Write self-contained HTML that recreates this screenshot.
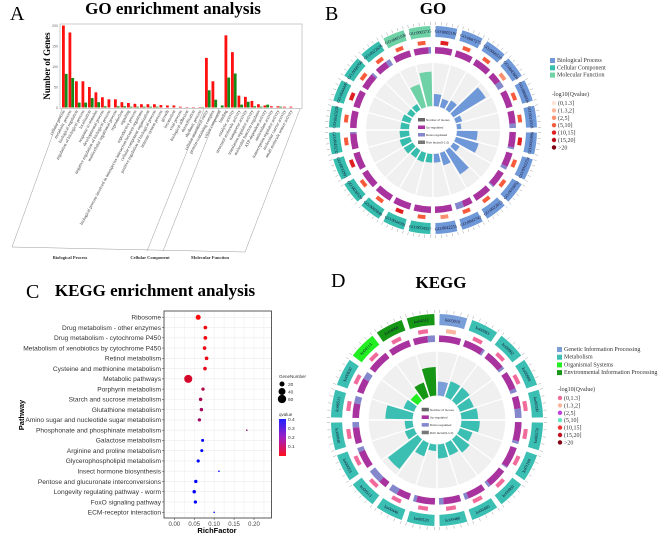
<!DOCTYPE html>
<html><head><meta charset="utf-8"><style>
html,body{margin:0;padding:0;background:#fff;}
svg{display:block;font-family:"Liberation Sans",sans-serif;}
.serif{font-family:"Liberation Serif",serif;}
</style></head><body>
<svg id="fig" width="669" height="534" viewBox="0 0 669 534" xmlns="http://www.w3.org/2000/svg">
<text class="serif" x="10" y="20" font-size="20">A</text>
<text class="serif" x="173" y="14" font-size="17" font-weight="bold" text-anchor="middle">GO enrichment analysis</text>
<text class="serif" x="325" y="20" font-size="20">B</text>
<text class="serif" x="433" y="14" font-size="17" font-weight="bold" text-anchor="middle">GO</text>
<text class="serif" x="26" y="298" font-size="20">C</text>
<text class="serif" x="155" y="296" font-size="17" font-weight="bold" text-anchor="middle">KEGG enrichment analysis</text>
<text class="serif" x="331" y="287" font-size="20">D</text>
<text class="serif" x="441" y="288" font-size="17" font-weight="bold" text-anchor="middle">KEGG</text>
<g id="ga"></g>
<g id="gb"></g>
<g id="gc"></g>
<g id="gd"></g>
</svg>
<script>
var NS="http://www.w3.org/2000/svg";
// ---------- Panel A data ----------
var goTerms=["cellular process","metabolic process","biological regulation","regulation of biological process","localization","response to stimulus","developmental process","negative regulation of biological process","multicellular organismal process","reproduction","signaling","reproductive process","biological process involved in interspecies interaction between organisms","cellular component organization","positive regulation of biological process","immune system process","growth","locomotion","viral process","biological adhesion","detoxification","rhythmic process","cellular anatomical entity","protein-containing complex","virion component","binding","catalytic activity","structural molecule activity","transporter activity","translation regulator activity","molecular function regulator","ATP-dependent activity","antioxidant activity","transcription regulator activity","molecular carrier activity","small molecule sensor activity"];
var goUpCounts=[200,183,64,64,50,37,25,20,20,13,11,9,8,8,8,6,5,5,2,1,1,1,121,64,0,176,135,29,26,16,8,5,3,3,2,2];
var goDownCounts=[82,72,12,12,23,13,3,0,3,3,2,2,2,2,2,0,0,0,0,0,0,1,42,19,5,73,83,7,14,3,2,7,0,2,0,0];
var goYTicks=[0,50,100,150,200];
function el(p,tag,attrs){var e=document.createElementNS(NS,tag);for(var k in attrs)e.setAttribute(k,attrs[k]);p.appendChild(e);return e;}
(function(){
 var g=document.getElementById('ga');
 var x0=60,x1=302,yTop=24,y0=107.5;
 function ys(v){return y0-v*(y0-yTop-1.5)/200;}
 function xs(i){return 62+i*6.5;}
 var r=el(g,'rect',{x:x0,y:yTop,width:x1-x0,height:y0-yTop+1,fill:'none',stroke:'#aaa','stroke-width':0.6});
 
 goYTicks.forEach(function(t){var tx=el(g,'text',{x:x0-2,y:ys(t)+1.5,'font-size':3.5,'text-anchor':'end',fill:'#666'});tx.textContent=t;
  });
 var yl=el(g,'text',{x:50,y:66,'font-size':9,'font-weight':'bold','text-anchor':'middle',transform:'rotate(-90 50 66)','class':'serif'});yl.textContent='Number  of Genes';
 
 for(var i=0;i<goTerms.length;i++){
  var b=el(g,'rect',{x:xs(i),y:ys(goUpCounts[i]),width:2.8,height:y0-ys(goUpCounts[i]),fill:'#ff1010'});
  
  var b2=el(g,'rect',{x:xs(i)+2.8,y:ys(goDownCounts[i]),width:2.8,height:y0-ys(goDownCounts[i]),fill:'#168a16'});
  
  var lx=xs(i)+3,ly=111;
  var t=el(g,'text',{x:lx,y:ly,'font-size':4.4,'text-anchor':'end',fill:'#333',transform:'rotate(-62 '+lx+' '+ly+')','class':'serif'});t.textContent=goTerms[i];
  
 }
 var lines=[[62,109,12,247],[12,247,245,252],[300,109,245,252],[204,109,147,251],[219,109,163,251]];
 lines.forEach(function(l){var ln=el(g,'line',{x1:l[0],y1:l[1],x2:l[2],y2:l[3],stroke:'#999','stroke-width':0.5});});
 [['Biological Process',70],['Cellular Component',150],['Molecular Function',210]].forEach(function(s){
  var t=el(g,'text',{x:s[1],y:259,'font-size':4.5,'font-weight':'bold','text-anchor':'middle','class':'serif',fill:'#333'});t.textContent=s[0];
  });
})();
// ---------- Panel C data ----------
var keggPathways=["Ribosome","Drug metabolism - other enzymes","Drug metabolism - cytochrome P450","Metabolism of xenobiotics by cytochrome P450","Retinol metabolism","Cysteine and methionine metabolism","Metabolic pathways","Porphyrin metabolism","Starch and sucrose metabolism","Glutathione metabolism","Amino sugar and nucleotide sugar metabolism","Phosphonate and phosphinate metabolism","Galactose metabolism","Arginine and proline metabolism","Glycerophospholipid metabolism","Insect hormone biosynthesis","Pentose and glucuronate interconversions","Longevity regulating pathway - worm","FoxO signaling pathway","ECM-receptor interaction"];
var keggRich=[0.060,0.078,0.078,0.076,0.081,0.077,0.035,0.072,0.066,0.068,0.063,0.182,0.071,0.069,0.060,0.112,0.054,0.050,0.053,0.100];
var keggGenes=[25,14,14,13,13,13,65,11,12,12,11,1,9,9,10,2,11,12,11,2];
var keggQ=[0.04,0.05,0.05,0.06,0.06,0.07,0.09,0.14,0.15,0.16,0.17,0.2,0.4,0.4,0.4,0.4,0.4,0.4,0.4,0.4];
var richTicks=[0,0.05,0.10,0.15,0.20];
var richTickLabels=["0.00","0.05","0.10","0.15","0.20"];
(function(){
 var g=document.getElementById('gc');
 var L=164,R=271.5,T=311,B=518;
 function xs(v){return 174.3+v*398.5;}
 function ys(i){return 317.3+i*10.26;}
 function qcol(q){var f=Math.max(0,Math.min(1,(q-0.03)/0.37));var rr=Math.round(255*(1-f)),bb=Math.round(255*f),gg=Math.round(10*(1-f));return 'rgb('+rr+','+gg+','+bb+')';}
 el(g,'rect',{x:L,y:T,width:R-L,height:B-T,fill:'#fff'});
 for(var v=0;v<=0.225;v+=0.025){var ln=el(g,'line',{x1:xs(v),x2:xs(v),y1:T,y2:B,stroke:'#ebebeb','stroke-width':0.5});}
 for(var i=0;i<keggPathways.length;i++){el(g,'line',{x1:L,x2:R,y1:ys(i),y2:ys(i),stroke:'#ebebeb','stroke-width':0.6});}
 var fr=el(g,'rect',{x:L,y:T,width:R-L,height:B-T,fill:'none',stroke:'#333','stroke-width':0.8});
 
 for(var i=0;i<keggPathways.length;i++){
  var t=el(g,'text',{x:L-3,y:ys(i)+2.3,'font-size':6.6,'text-anchor':'end',fill:'#333'});t.textContent=keggPathways[i];
  
  el(g,'line',{x1:L-2,x2:L,y1:ys(i),y2:ys(i),stroke:'#333','stroke-width':0.5});
  var c=el(g,'circle',{cx:xs(keggRich[i]),cy:ys(i),r:Math.max(0.8,Math.sqrt(keggGenes[i])*0.5),fill:qcol(keggQ[i])});
  
 }
 richTicks.forEach(function(v,k){var t=el(g,'text',{x:xs(v),y:B+8,'font-size':6,'text-anchor':'middle',fill:'#444'});t.textContent=richTickLabels[k];
  
  el(g,'line',{x1:xs(v),x2:xs(v),y1:B,y2:B+2,stroke:'#333','stroke-width':0.5});});
 var xt=el(g,'text',{x:217,y:533,'font-size':7.5,'font-weight':'bold','text-anchor':'middle'});xt.textContent='RichFactor';
 
 var yt=el(g,'text',{x:24,y:415,'font-size':7.5,'font-weight':'bold','text-anchor':'middle',transform:'rotate(-90 24 415)'});yt.textContent='Pathway';
 
 var lg=el(g,'text',{x:279,y:378,'font-size':4.5,fill:'#333'});lg.textContent='GeneNumber';
 
 [[20,384],[40,391.5],[60,399]].forEach(function(s){el(g,'circle',{cx:282,cy:s[1],r:Math.sqrt(s[0])*0.5+0.3,fill:'#000'});
  var t=el(g,'text',{x:288,y:s[1]+1.8,'font-size':4.8,fill:'#333'});t.textContent=s[0];});
 var ql=el(g,'text',{x:279,y:416,'font-size':4.5,fill:'#333'});ql.textContent='qvalue';
 
 var defs=el(g,'defs',{});var lgd=el(defs,'linearGradient',{id:'qg',x1:0,y1:0,x2:0,y2:1});
 el(lgd,'stop',{offset:'0',"stop-color":'#2020ff'});el(lgd,'stop',{offset:'0.5',"stop-color":'#a020c0'});el(lgd,'stop',{offset:'1',"stop-color":'#ff1020'});
 var cb=el(g,'rect',{x:279,y:419,width:7,height:37,fill:'url(#qg)'});
 [['0.4',419],['0.3',428],['0.2',437],['0.1',446]].forEach(function(s){var t=el(g,'text',{x:288,y:s[1]+2,'font-size':4.8,fill:'#333'});t.textContent=s[0];});
})();
// ---------- Circle plots ----------
function arc(cx,cy,r0,r1,a0,a1){
 function p(r,a){return [cx+r*Math.cos(a),cy+r*Math.sin(a)];}
 var l=(a1-a0)>Math.PI?1:0;var A=p(r1,a0),Bp=p(r1,a1),C=p(r0,a1),D=p(r0,a0);
 return 'M'+A+' A'+r1+','+r1+' 0 '+l+' 1 '+Bp+' L'+C+' A'+r0+','+r0+' 0 '+l+' 0 '+D+'Z';
}
function circlePlot(g,cx,cy,s,ids,cats,catCols,rich,up,down,qcols){
 var N=ids.length,step=2*Math.PI/N,gap=0.025;
 el(g,'circle',{cx:cx,cy:cy,r:67*s,fill:'#f0f0f0'});
 for(var i=0;i<N;i++){
  var a0=-Math.PI/2+i*step+gap,a1=a0+step-2*gap,am=(a0+a1)/2;
  var o=el(g,'path',{d:arc(cx,cy,93*s,104*s,a0,a1),fill:catCols[cats[i]]});
  
  for(var k=0;k<5;k++){var ta=a0+(a1-a0)*k/4;el(g,'line',{x1:cx+105*s*Math.cos(ta),y1:cy+105*s*Math.sin(ta),x2:cx+108*s*Math.cos(ta),y2:cy+108*s*Math.sin(ta),stroke:'#888','stroke-width':0.4});}
  var deg=am*180/Math.PI+90,tx=cx+98.5*s*Math.cos(am),ty=cy+98.5*s*Math.sin(am);
  if(Math.sin(am)>0.0){deg+=180;}
  var t=el(g,'text',{x:tx,y:ty+1.5,'font-size':4.3,'text-anchor':'middle','class':'serif',fill:'#113',transform:'rotate('+deg+' '+tx+' '+ty+')'});t.textContent=ids[i];
  
  var w=(a1-a0)*0.42;
  var q=el(g,'path',{d:arc(cx,cy,85.5*s,89.5*s,am-w/2,am+w/2),fill:qcols[i]});
  
  var tot=up[i]+down[i],split=a0+(a1-a0)*(tot?up[i]/tot:1);
  var pu=el(g,'path',{d:arc(cx,cy,76.5*s,83*s,a0,split),fill:'#a8339f'});
  if(split<a1){var pd=el(g,'path',{d:arc(cx,cy,76.5*s,83*s,split,a1),fill:'#8587cc'});}
  var br=el(g,'path',{d:arc(cx,cy,24*s,(24+rich[i]*43)*s,a0,a1),fill:catCols[cats[i]]});
  
 }
 for(var i=0;i<N;i++){var a=-Math.PI/2+i*step;el(g,'line',{x1:cx+24*s*Math.cos(a),y1:cy+24*s*Math.sin(a),x2:cx+68*s*Math.cos(a),y2:cy+68*s*Math.sin(a),stroke:'#fff','stroke-width':1.3});}
 el(g,'line',{x1:cx-68*s,y1:cy,x2:cx+68*s,y2:cy,stroke:'#fff','stroke-width':1.3});
 el(g,'circle',{cx:cx,cy:cy,r:23.5*s,fill:'#fff'});
 var items=[['Number of Genes','#666'],['Up-regulated','#a8339f'],['Down-regulated','#8587cc'],['Rich factor(0-1.0)','#777']];
 items.forEach(function(it,k){var yy=cy-12*s+k*7.5*s;el(g,'rect',{x:cx-15*s,y:yy,width:7*s,height:3.5*s,fill:it[1]});
  var t=el(g,'text',{x:cx-7*s,y:yy+3*s,'font-size':3*s,fill:'#333'});t.textContent=it[0];});
}
function legend(g,x,y,names,cols,qx,qy,qcolsL,sp){
 names.forEach(function(n,k){el(g,'rect',{x:x,y:y+k*sp-4,width:5,height:5,fill:cols[k]});
  var t=el(g,'text',{x:x+7,y:y+k*sp,'font-size':6,'class':'serif',fill:'#333'});t.textContent=n;});
 var h=el(g,'text',{x:qx,y:qy,'font-size':6,'class':'serif',fill:'#333'});h.textContent='-log10(Qvalue)';
 var lab=['(0,1.3]','(1.3,2]','(2,5]','(5,10]','(10,15]','(15,20]','>20'];
 lab.forEach(function(l,k){var yy=qy+9+k*7.4;el(g,'circle',{cx:qx+2,cy:yy-2,r:2.2,fill:qcolsL[k]});
  var t=el(g,'text',{x:qx+6,y:yy,'font-size':6,'class':'serif',fill:'#333'});t.textContent=l;});
}
// GO circle data
var goIds=["GO:0002181","GO:0007275","GO:0006518","GO:0043604","GO:0006096","GO:0019318","GO:0005996","GO:0042254","GO:0016052","GO:0022613","GO:0042742","GO:0042255","GO:0034357","GO:0044391","GO:0005840","GO:0030529","GO:0032991","GO:0043232","GO:0043228","GO:0044445","GO:0098796","GO:0022626","GO:0005198","GO:0003735"];
var goCats=[0,0,0,0,0,0,0,0,0,0,0,0,1,1,1,1,1,1,1,1,1,1,2,2];
var goRich=[0.28,0.2,0.25,0.88,0.15,0.1,0.48,0.55,0.17,0.65,0.3,0.2,0.2,0.22,0.2,0.24,0.25,0.22,0.2,0.2,0.15,0.15,0.55,0.8];
var goUp=[20,13,10,5,2,6,8,9,13,15,6,8,14,12,10,10,15,11,12,9,8,8,5,6];
var goDown=[0,0,0,3,0,2,1,2,1,0,5,0,0,0,0,0,0,1,0,0,1,3,0,1];
var goQ=[4,3,3,2,3,3,4,3,3,3,3,2,3,4,3,3,4,3,3,4,3,3,3,3];
var goQPalette=['#fde3d8','#fbb79b','#fb9070','#f85a3c','#e02020','#b8101a','#800010'];
(function(){
 var g=document.getElementById('gb');
 var q=goQ.map(function(v){return goQPalette[v];});
 circlePlot(g,433,130,1,goIds,goCats,['#6f98d8','#37bdae','#6ed2a6'],goRich,goUp,goDown,q);
 legend(g,550,62,['Biological Process','Cellular Component','Molecular Function'],['#6f98d8','#37bdae','#6ed2a6'],552,96,goQPalette,7.3);
})();
// KEGG circle data
var koIds=["ko03010","ko00983","ko00982","ko00980","ko00590","ko00270","ko01100","ko00860","ko00480","ko00480","ko00520","ko00440","ko00513","ko00053","ko00040","ko00511","ko00830","ko04113","ko04068","ko04512"];
var koCats=[0,1,1,1,1,1,1,1,1,1,1,1,1,1,1,1,1,2,3,3];
var koRich=[0.32,0.38,0.38,0.33,0.38,0.42,0.3,0.38,0.3,0.32,0.15,0.32,0.85,0.22,0.18,0.62,0.25,0.2,0.35,0.65];
var koUp=[25,10,8,5,4,7,60,7,5,4,6,6,3,4,6,2,4,3,3,2];
var koDown=[0,1,1,1,3,1,3,1,1,1,1,4,5,1,2,1,2,0,0,1];
var koQ=[1,0,0,0,0,0,0,0,0,0,0,0,0,0,0,0,0,0,0,0];
var koQPalette=['#f06a9c','#f9b7a0','#c040e0','#60e8c0','#f03030','#c01020','#800010'];
(function(){
 var g=document.getElementById('gd');
 var q=koQ.map(function(v){return koQPalette[v];});
 circlePlot(g,437,420,1.02,koIds,koCats,['#7a9ed8','#3cbfb3','#22ee22','#159615'],koRich,koUp,koDown,q);
 legend(g,557,351,['Genetic Information Processing','Metabolism','Organismal Systems','Environmental Information Processing'],['#7a9ed8','#3cbfb3','#22ee22','#159615'],558,391,koQPalette,7.7);
})();
</script>
</body></html>
